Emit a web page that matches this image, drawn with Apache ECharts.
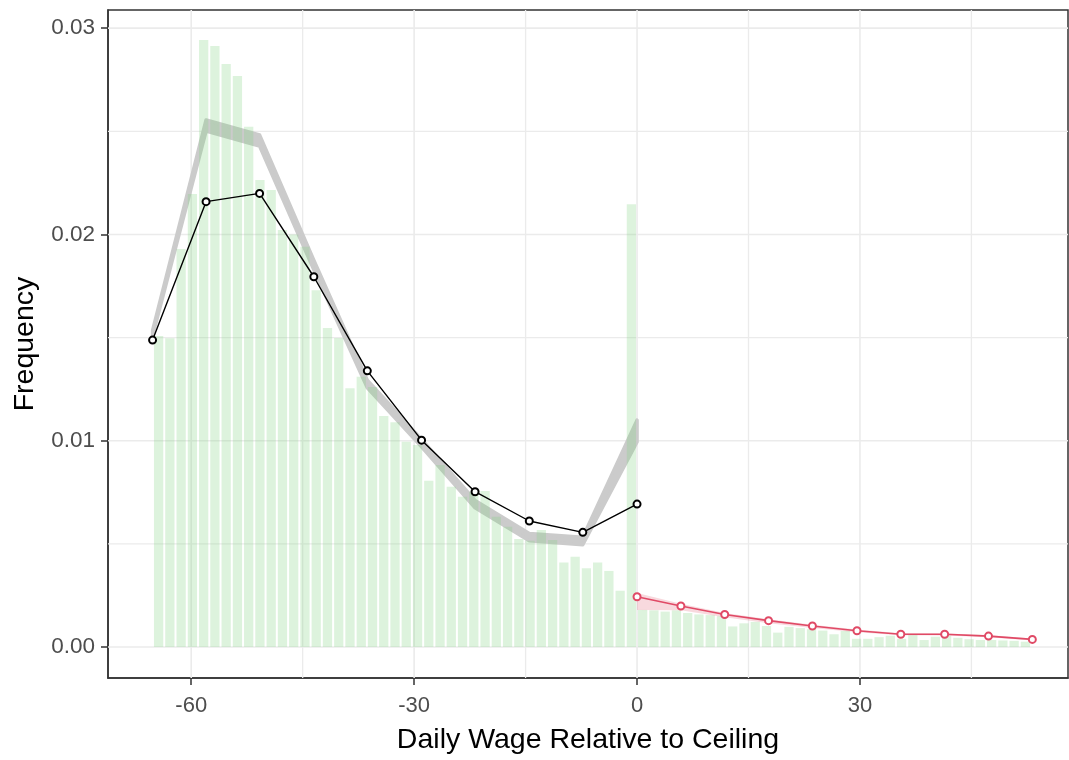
<!DOCTYPE html>
<html>
<head>
<meta charset="utf-8">
<title>Daily Wage Relative to Ceiling</title>
<script src="https://cdn.jsdelivr.net/npm/echarts@6/dist/echarts.min.js"></script>
<style>
  html, body { margin: 0; padding: 0; background: #fff; }
  #chart { width: 1069px; height: 760px; }
</style>
</head>
<body>
<div id="chart"></div>
<script>
// Histogram bins (frequency per bin), below and above the ceiling
const binWidth = 1.515;
const belowBins = [
  0.01508, 0.01497, 0.01930, 0.02196, 0.02942, 0.02913, 0.02826, 0.02768, 0.02522, 0.02264,
  0.02215, 0.02021, 0.02000, 0.01940, 0.01730, 0.01546, 0.01498, 0.01255, 0.01310, 0.01260,
  0.01120, 0.01090, 0.00995, 0.00980, 0.00806, 0.00882, 0.00777, 0.00729, 0.00753, 0.00756,
  0.00632, 0.00583, 0.00524, 0.00515, 0.00567, 0.00519, 0.00410, 0.00438, 0.00382, 0.00410,
  0.00369, 0.00273, 0.02147
];
const aboveBins = [
  0.00180, 0.00178, 0.00172, 0.00178, 0.00165, 0.00158, 0.00155, 0.00150, 0.00100, 0.00115,
  0.00122, 0.00102, 0.00070, 0.00098, 0.00092, 0.00087, 0.00080, 0.00062, 0.00078, 0.00040,
  0.00040, 0.00048, 0.00055, 0.00040, 0.00058, 0.00034, 0.00050, 0.00055, 0.00045, 0.00038,
  0.00034, 0.00034, 0.00032, 0.00030, 0.00026
];

// Binned means below the ceiling (black) and above it (red)
const belowX    = [-65.2, -58.0, -50.8, -43.5, -36.3, -29.0, -21.8, -14.5, -7.3, 0];
const belowMean = [0.01488, 0.02159, 0.02199, 0.01795, 0.01339, 0.01003, 0.00753, 0.00611, 0.00556, 0.00693];
const aboveX    = [0, 5.9, 11.8, 17.7, 23.6, 29.6, 35.5, 41.4, 47.3, 53.2];
const aboveMean = [0.00244, 0.00199, 0.00158, 0.00128, 0.00102, 0.00079, 0.00062, 0.00062, 0.00053, 0.00037];

// Fitted bands
const fitUpper   = [0.01535, 0.02555, 0.02482, 0.01875, 0.01293, 0.01007, 0.00711, 0.00551, 0.00532, 0.01100];
const fitLower   = [0.01509, 0.02501, 0.02428, 0.01829, 0.01257, 0.00971, 0.00675, 0.00515, 0.00496, 0.00994];
const aboveUpper = [0.00262, 0.00210, 0.00165, 0.00135, 0.00108, 0.00085, 0.00067, 0.00066, 0.00058, 0.00042];
const aboveLower = [0.00180, 0.00178, 0.00145, 0.00115, 0.00092, 0.00072, 0.00057, 0.00056, 0.00047, 0.00032];

// Axis breaks
const xMajor = [-60, -30, 0, 30];
const xMinor = [-45, -15, 15, 45];
const yMajor = [0, 0.01, 0.02, 0.03];
const yMinor = [0.005, 0.015, 0.025];
const xRange = [-71.2, 58.0];
const yRange = [-0.0015, 0.03088];

const FONT = '"Liberation Sans", Arial, Helvetica, sans-serif';

// Histogram rectangles [left, right, freq]
const histData = [];
belowBins.forEach((f, i) => {
  const right = -(belowBins.length - 1 - i) * binWidth;
  histData.push([right - binWidth, right, f]);
});
aboveBins.forEach((f, i) => {
  histData.push([i * binWidth, (i + 1) * binWidth, f]);
});

const chart = echarts.init(document.getElementById('chart'), null, { renderer: 'canvas' });

function gridLineSeries(values, dir, width, z) {
  return {
    type: 'custom',
    silent: true,
    z: z,
    data: values.map(v => [v]),
    encode: dir === 'v' ? { x: 0 } : { y: 0 },
    renderItem: function (params, api) {
      const cs = params.coordSys;
      const v = api.value(0);
      let shape;
      if (dir === 'v') {
        const px = api.coord([v, 0])[0];
        shape = { x1: px, y1: cs.y, x2: px, y2: cs.y + cs.height };
      } else {
        const py = api.coord([0, v])[1];
        shape = { x1: cs.x, y1: py, x2: cs.x + cs.width, y2: py };
      }
      return { type: 'line', shape: shape, style: { stroke: '#ebebeb', lineWidth: width } };
    }
  };
}

function ribbonSeries(xs, upper, lower, style, z) {
  return {
    type: 'custom',
    silent: true,
    z: z,
    clip: true,
    data: [[xs[0], upper[0]]],
    renderItem: function (params, api) {
      const pts = [];
      for (let i = 0; i < xs.length; i++) pts.push(api.coord([xs[i], upper[i]]));
      for (let i = xs.length - 1; i >= 0; i--) pts.push(api.coord([xs[i], lower[i]]));
      return { type: 'polygon', shape: { points: pts }, style: style };
    }
  };
}

const option = {
  animation: false,
  backgroundColor: '#ffffff',
  grid: {
    left: 108, right: 1, top: 10, bottom: 82,
    show: true, borderColor: '#333333', borderWidth: 1.5, backgroundColor: 'transparent'
  },
  xAxis: {
    type: 'value',
    min: xRange[0], max: xRange[1],
    splitLine: { show: false },
    axisLine: { show: true, onZero: false, lineStyle: { color: '#333333', width: 1.5 } },
    axisTick: { show: true, customValues: xMajor, length: 7, lineStyle: { color: '#333333', width: 1.5 } },
    axisLabel: { customValues: xMajor, color: '#4d4d4d', fontSize: 22, margin: 17, fontFamily: FONT },
    name: 'Daily Wage Relative to Ceiling',
    nameLocation: 'middle',
    nameGap: 48,
    nameTextStyle: { fontSize: 28.5, color: '#000000', fontFamily: FONT }
  },
  yAxis: {
    type: 'value',
    min: yRange[0], max: yRange[1],
    splitLine: { show: false },
    axisLine: { show: true, onZero: false, lineStyle: { color: '#333333', width: 1.5 } },
    axisTick: { show: true, customValues: yMajor, length: 7, lineStyle: { color: '#333333', width: 1.5 } },
    axisLabel: {
      customValues: yMajor, color: '#4d4d4d', fontSize: 22.5, margin: 13, fontFamily: FONT,
      formatter: v => v.toFixed(2)
    },
    name: 'Frequency',
    nameLocation: 'middle',
    nameGap: 68,
    nameTextStyle: { fontSize: 28.5, color: '#000000', fontFamily: FONT }
  },
  series: [
    gridLineSeries(xMinor, 'v', 1.3, 1),
    gridLineSeries(yMinor, 'h', 1.3, 1),
    gridLineSeries(xMajor, 'v', 1.6, 1),
    gridLineSeries(yMajor, 'h', 1.6, 1),
    // fitted counterfactual band below the ceiling
    ribbonSeries(belowX, fitUpper, fitLower,
      { fill: '#cbcbcb', stroke: '#cbcbcb', lineWidth: 3.5, lineJoin: 'round' }, 2),
    // histogram
    {
      type: 'custom',
      silent: true,
      z: 3,
      data: histData,
      encode: { x: [0, 1], y: 2 },
      renderItem: function (params, api) {
        const p0 = api.coord([api.value(0), api.value(2)]);
        const p1 = api.coord([api.value(1), 0]);
        return {
          type: 'rect',
          shape: { x: p0[0] + 1, y: p0[1], width: p1[0] - p0[0] - 2, height: p1[1] - p0[1] },
          style: { fill: 'rgba(130,210,130,0.27)' }
        };
      }
    },
    // band above the ceiling
    ribbonSeries(aboveX, aboveUpper, aboveLower,
      { fill: 'rgba(225,80,105,0.22)' }, 4),
    {
      type: 'line',
      z: 5,
      data: belowX.map((x, i) => [x, belowMean[i]]),
      symbol: 'emptyCircle',
      symbolSize: 7,
      lineStyle: { color: '#000000', width: 1.4 },
      itemStyle: { color: '#000000', borderWidth: 1.3 }
    },
    {
      type: 'line',
      z: 5,
      data: aboveX.map((x, i) => [x, aboveMean[i]]),
      symbol: 'emptyCircle',
      symbolSize: 7,
      lineStyle: { color: '#e04a66', width: 1.6 },
      itemStyle: { color: '#e04a66', borderWidth: 1.3 }
    }
  ]
};

chart.setOption(option);
</script>
</body>
</html>
